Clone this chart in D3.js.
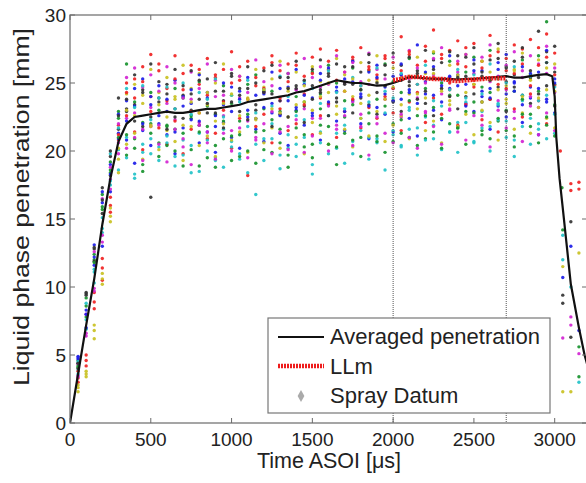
<!DOCTYPE html>
<html>
<head>
<meta charset="utf-8">
<script src="https://cdn.jsdelivr.net/npm/d3@7"></script>
<style>
  body { margin: 0; background: #fff; }
  svg { display: block; font-family: "Liberation Sans", Arial, sans-serif; }
</style>
</head>
<body>
<svg id="chart" width="586" height="483"></svg>
<script>
const sprayTimes = [50,100,150,200,250,300,350,400,450,500,550,600,650,700,750,800,850,900,950,1000,
  1050,1100,1150,1200,1250,1300,1350,1400,1450,1500,1550,1600,1650,1700,1750,1800,1850,1900,1950,2000,
  2050,2100,2150,2200,2250,2300,2350,2400,2450,2500,2550,2600,2650,2700,2750,2800,2850,2900,2950,3000]

const runColors = ['#f02222', '#17922e', '#1c1ce8', '#22c2c8', '#d224d2', '#c9c122', '#333333']

// one entry per injection, colour index + penetration at each sprayTimes step
const runs = [
  {c: 0, v: [3.0, 4.2, 8.4, 10.5, 15.5, 20.8, 25.0, 25.3, 26.2, 27.1,
    25.9, 24.6, 27.0, 25.7, 26.3, 24.9, 26.8, 25.4, 26.0, 27.3,
    25.2, 26.6, 24.8, 26.1, 27.0, 25.9, 26.4, 27.2, 25.5, 26.9,
    27.5, 26.0, 27.4, 25.8, 26.7, 27.6, 26.2, 25.6, 27.0, 26.5,
    28.4, 27.1, 26.3, 27.7, 28.9, 26.8, 27.4, 28.1, 26.2, 27.9,
    26.6, 28.5, 27.3, 25.9, 27.8, 26.4, 28.2, 27.6, 26.9, 27.2]},
  {c: 1, v: [4.6, 9.2, 12.4, 16.8, 19.2, 22.9, 26.4, 23.6, 22.1, 24.3,
    23.0, 21.8, 24.6, 23.9, 22.4, 25.1, 23.3, 22.7, 24.8, 23.5,
    22.2, 24.9, 25.6, 23.1, 24.4, 22.9, 25.7, 24.0, 23.6, 25.8,
    24.2, 26.3, 25.0, 23.7, 26.1, 24.5, 25.9, 23.8, 26.4, 25.1,
    24.3, 26.8, 25.5, 24.6, 27.2, 25.0, 26.6, 24.1, 25.8, 26.9,
    24.7, 27.4, 25.3, 26.2, 24.4, 26.7, 25.6, 27.0, 29.5, 24.9]},
  {c: 2, v: [4.9, 8.3, 11.6, 16.2, 19.0, 21.3, 20.8, 19.1, 21.5, 20.4,
    22.0, 21.2, 19.8, 21.7, 22.3, 20.6, 21.4, 19.9, 22.1, 21.0,
    20.2, 22.5, 21.6, 20.7, 22.8, 21.3, 20.4, 23.0, 21.9, 22.6,
    20.8, 23.4, 22.2, 21.5, 23.7, 22.0, 20.9, 23.2, 22.7, 21.4,
    23.8, 22.4, 21.1, 24.2, 23.0, 22.3, 24.6, 21.8, 23.5, 22.9,
    24.0, 21.6, 23.3, 22.5, 24.4, 22.1, 23.9, 21.2, 23.6, 22.8]},
  {c: 3, v: [3.9, 6.9, 10.3, 14.0, 17.5, 20.1, 21.0, 18.0, 20.5, 19.8,
    20.3, 21.1, 19.6, 20.8, 18.4, 21.3, 20.0, 19.3, 21.6, 20.7,
    19.4, 21.8, 16.8, 20.9, 22.0, 19.7, 21.2, 20.5, 22.3, 19.0,
    21.4, 22.6, 20.2, 21.9, 19.8, 22.4, 21.0, 20.6, 22.8, 21.5,
    20.3, 23.0, 21.7, 22.5, 20.9, 23.3, 21.4, 22.1, 23.6, 20.7,
    22.9, 21.8, 23.4, 22.2, 20.8, 23.7, 22.4, 21.6, 24.1, 22.7]},
  {c: 4, v: [3.5, 6.6, 9.9, 13.3, 17.9, 20.6, 22.4, 22.8, 21.6, 23.2,
    21.9, 23.5, 22.3, 20.9, 23.8, 22.1, 21.4, 24.0, 22.6, 21.5,
    23.9, 22.2, 21.0, 24.3, 22.9, 23.7, 21.8, 24.5, 23.1, 22.4,
    24.7, 23.3, 21.9, 25.0, 23.6, 22.7, 24.9, 22.0, 23.8, 24.6,
    22.5, 25.3, 23.9, 22.8, 25.6, 24.2, 23.0, 25.8, 23.4, 24.9,
    22.6, 25.1, 23.7, 24.5, 22.9, 25.4, 24.0, 23.2, 25.7, 24.3]},
  {c: 5, v: [2.3, 3.4, 6.2, 10.2, 14.8, 19.4, 24.2, 24.9, 23.5, 26.0,
    24.3, 25.4, 23.8, 26.3, 24.6, 25.7, 23.4, 25.0, 26.4, 24.1,
    25.5, 23.9, 26.0, 24.7, 25.3, 26.6, 24.4, 25.8, 23.6, 26.2,
    25.1, 24.3, 26.8, 25.6, 24.0, 26.5, 25.2, 27.0, 24.8, 26.1,
    25.4, 24.2, 26.9, 25.7, 27.3, 24.6, 26.3, 25.5, 27.1, 24.9,
    26.6, 25.2, 27.5, 24.8, 26.0, 27.2, 25.3, 26.7, 24.5, 26.4]},
  {c: 6, v: [4.4, 9.5, 12.8, 17.3, 19.6, 23.9, 23.1, 22.2, 24.5, 16.6,
    23.6, 24.9, 22.5, 24.1, 23.0, 25.2, 22.8, 24.4, 23.7, 25.5,
    22.9, 24.6, 23.4, 25.9, 24.2, 22.7, 25.4, 24.8, 23.3, 26.0,
    24.5, 25.7, 23.6, 26.2, 24.9, 23.9, 26.5, 24.3, 25.6, 23.7,
    26.3, 24.8, 25.9, 23.5, 26.7, 24.6, 25.2, 27.0, 24.0, 26.4,
    25.5, 23.8, 26.8, 25.1, 24.7, 26.9, 25.4, 24.2, 27.3, 25.8]},
  {c: 0, v: [3.8, 4.6, 8.9, 11.4, 16.0, 21.9, 22.6, 21.4, 20.1, 22.9,
    21.7, 20.5, 22.2, 19.8, 21.6, 22.8, 20.9, 21.3, 23.0, 20.2,
    22.4, 18.2, 21.8, 22.7, 20.6, 23.1, 21.5, 22.0, 23.4, 21.2,
    22.6, 23.5, 21.0, 22.9, 23.8, 21.7, 23.2, 22.4, 24.0, 22.8,
    21.5, 23.6, 24.3, 22.1, 23.9, 22.7, 24.5, 21.9, 23.4, 24.7,
    22.3, 23.8, 21.4, 24.6, 23.1, 22.5, 24.2, 23.7, 22.0, 24.8]},
  {c: 1, v: [4.1, 7.8, 12.0, 15.7, 18.6, 22.4, 21.2, 20.9, 19.0, 22.0,
    20.6, 21.9, 20.0, 21.3, 22.6, 18.9, 21.8, 20.4, 22.2, 21.1,
    19.6, 22.7, 21.4, 20.1, 22.3, 21.6, 19.7, 22.9, 21.2, 20.5,
    23.1, 21.8, 20.3, 22.5, 23.4, 21.0, 22.8, 20.7, 23.3, 22.0,
    21.3, 23.7, 22.6, 20.9, 23.2, 22.4, 24.1, 21.7, 22.9, 23.6,
    21.5, 24.3, 22.2, 23.0, 21.1, 23.8, 22.7, 24.4, 21.9, 23.4]},
  {c: 2, v: [4.7, 7.0, 12.2, 13.0, 17.0, 20.9, 23.7, 24.6, 25.3, 23.4,
    24.8, 22.9, 25.2, 24.0, 23.5, 25.6, 24.3, 22.6, 25.0, 24.7,
    23.8, 25.4, 24.1, 23.2, 25.8, 24.6, 23.7, 26.0, 24.9, 23.9,
    25.7, 26.1, 24.4, 25.3, 26.6, 24.2, 25.8, 26.3, 24.7, 25.5,
    26.4, 24.5, 27.8, 25.1, 26.2, 24.8, 27.0, 25.6, 24.9, 26.7,
    25.9, 24.6, 26.5, 27.1, 25.0, 26.2, 24.7, 25.8, 27.4, 25.3]},
  {c: 3, v: [3.6, 7.6, 11.1, 14.3, 17.8, 18.6, 19.5, 18.3, 19.9, 20.9,
    19.3, 20.6, 18.9, 19.7, 20.4, 18.5, 20.8, 19.5, 18.8, 20.3,
    19.8, 18.4, 20.5, 19.3, 20.9, 18.7, 20.2, 19.6, 21.0, 18.3,
    20.6, 19.8, 21.3, 19.1, 20.7, 21.5, 19.4, 20.9, 18.6, 21.2,
    20.4, 21.6, 19.7, 20.8, 21.9, 20.1, 21.4, 19.9, 22.1, 20.6,
    21.7, 20.0, 22.3, 21.0, 19.6, 21.8, 20.5, 22.0, 20.9, 21.3]},
  {c: 4, v: [4.3, 8.0, 12.6, 16.5, 18.8, 22.0, 25.4, 26.1, 24.7, 25.6,
    24.4, 26.2, 25.0, 23.9, 25.8, 24.6, 26.4, 25.2, 24.1, 26.0,
    25.5, 24.3, 26.7, 25.1, 24.8, 26.3, 25.7, 24.5, 26.8, 25.4,
    26.2, 24.9, 27.0, 25.8, 26.5, 25.1, 27.2, 26.0, 25.3, 26.9,
    25.6, 27.4, 26.1, 25.0, 26.8, 27.6, 25.4, 26.6, 27.1, 25.7,
    26.9, 27.8, 25.5, 26.3, 27.3, 25.9, 27.0, 26.4, 27.7, 26.1]},
  {c: 5, v: [2.8, 3.8, 7.2, 11.0, 15.2, 18.4, 20.5, 21.3, 19.4, 21.9,
    20.1, 21.5, 20.7, 19.3, 21.8, 20.4, 21.1, 19.6, 22.0, 20.8,
    21.4, 19.9, 22.3, 20.6, 21.7, 20.2, 22.5, 21.0, 19.8, 22.1,
    21.3, 20.5, 22.7, 21.6, 20.3, 22.4, 21.1, 22.9, 20.7, 21.9,
    22.6, 20.9, 23.1, 21.5, 22.2, 20.6, 23.4, 21.8, 22.7, 21.2,
    23.0, 22.1, 20.8, 23.5, 21.6, 22.8, 21.3, 23.2, 22.4, 21.7]},
  {c: 6, v: [4.0, 9.4, 11.9, 15.4, 18.2, 21.6, 22.9, 23.4, 21.8, 22.5,
    23.9, 21.6, 23.1, 22.4, 24.2, 21.9, 23.5, 22.8, 21.7, 23.6,
    24.1, 22.3, 23.0, 24.4, 21.8, 23.7, 22.5, 24.6, 22.1, 23.8,
    24.3, 22.6, 23.9, 25.0, 22.8, 24.5, 23.4, 22.7, 24.8, 23.6,
    22.9, 25.1, 23.8, 24.4, 22.6, 25.3, 24.0, 23.1, 25.5, 24.2,
    23.6, 25.2, 24.7, 22.9, 25.6, 24.1, 23.5, 25.4, 24.8, 23.3]},
  {c: 0, v: [3.3, 5.0, 9.6, 12.1, 16.6, 21.2, 24.3, 23.9, 25.1, 24.0,
    26.4, 23.7, 25.3, 24.5, 22.9, 26.0, 24.1, 25.6, 23.6, 25.0,
    26.2, 23.8, 25.4, 24.6, 26.5, 23.9, 25.1, 26.3, 24.2, 25.7,
    23.9, 26.6, 25.2, 24.4, 26.9, 24.8, 26.0, 25.3, 26.8, 24.6,
    25.9, 27.3, 24.9, 26.6, 25.4, 27.1, 25.0, 26.4, 27.6, 25.2,
    26.1, 27.0, 24.9, 26.8, 25.7, 27.5, 24.8, 26.3, 28.6, 25.6]},
  {c: 1, v: [4.2, 8.6, 11.8, 15.9, 18.4, 21.0, 19.7, 20.2, 18.5, 21.3,
    19.6, 20.4, 21.6, 18.9, 20.1, 21.4, 19.5, 18.8, 20.9, 19.3,
    21.2, 20.0, 19.1, 21.5, 19.9, 20.6, 18.8, 21.7, 20.3, 19.5,
    21.9, 20.5, 19.0, 21.3, 20.8, 19.6, 22.0, 21.1, 19.9, 20.7,
    22.3, 21.0, 20.4, 22.6, 21.4, 20.2, 22.0, 21.7, 20.5, 22.8,
    21.2, 20.9, 22.4, 21.5, 20.3, 22.7, 21.8, 20.6, 22.5, 21.1]},
  {c: 2, v: [4.8, 8.0, 13.1, 17.0, 18.3, 22.7, 22.2, 23.3, 22.0, 24.0,
    22.6, 23.8, 21.4, 23.3, 24.5, 22.2, 23.9, 21.8, 23.4, 22.9,
    24.4, 23.0, 22.4, 24.2, 23.5, 22.6, 24.7, 23.2, 24.1, 22.8,
    25.2, 23.6, 24.7, 22.9, 25.1, 24.0, 23.3, 25.4, 24.2, 23.7,
    25.6, 24.3, 23.5, 25.8, 24.1, 23.6, 25.5, 24.8, 23.3, 25.9,
    24.4, 23.9, 26.0, 24.2, 25.1, 23.4, 25.7, 24.6, 23.8, 25.0]},
  {c: 3, v: [4.5, 8.8, 11.3, 15.1, 19.8, 21.7, 24.6, 23.2, 24.8, 22.3,
    23.9, 24.7, 23.1, 25.0, 22.7, 24.3, 23.8, 25.3, 22.5, 24.1,
    23.6, 25.2, 22.8, 24.5, 23.3, 25.5, 24.0, 22.6, 25.1, 24.6,
    23.5, 25.9, 24.3, 23.1, 25.4, 24.8, 23.6, 26.1, 24.4, 23.9,
    25.7, 23.2, 24.9, 26.3, 23.7, 25.2, 24.5, 26.0, 23.9, 25.6,
    24.2, 26.4, 23.5, 25.0, 26.2, 24.1, 25.5, 23.7, 26.5, 24.7]},
  {c: 4, v: [3.4, 6.4, 9.7, 13.8, 17.2, 19.8, 20.2, 21.0, 19.3, 21.8,
    20.5, 19.2, 21.6, 20.3, 19.0, 21.9, 20.6, 19.4, 21.3, 20.0,
    21.7, 19.5, 20.8, 22.0, 19.8, 21.4, 20.1, 22.3, 19.9, 21.1,
    22.4, 20.0, 21.6, 22.6, 20.4, 21.8, 19.7, 22.5, 21.3, 20.6,
    22.7, 21.0, 20.2, 22.9, 21.8, 20.5, 23.1, 21.4, 20.8, 22.6,
    21.9, 20.3, 23.0, 21.7, 22.4, 20.7, 23.3, 21.2, 22.8, 21.5]},
  {c: 5, v: [2.6, 3.6, 6.8, 10.6, 15.8, 20.2, 23.0, 22.6, 24.1, 21.8,
    23.4, 22.5, 24.0, 21.9, 23.6, 22.8, 24.3, 22.2, 23.5, 24.2,
    22.6, 23.8, 22.4, 24.5, 23.1, 22.8, 24.6, 23.4, 24.8, 23.0,
    24.0, 25.0, 23.3, 24.4, 25.3, 23.5, 24.1, 25.1, 23.8, 24.7,
    23.4, 25.5, 24.2, 23.9, 25.7, 24.4, 23.7, 25.6, 24.3, 24.9,
    23.6, 25.8, 24.5, 23.8, 25.9, 24.0, 25.2, 23.9, 26.1, 24.4]},
  {c: 6, v: [4.4, 9.6, 12.9, 16.4, 20.0, 22.6, 23.8, 25.6, 24.3, 26.4,
    25.1, 24.2, 26.0, 24.8, 25.9, 23.8, 25.3, 26.5, 24.4, 25.7,
    24.6, 26.2, 25.0, 24.3, 26.3, 25.4, 24.6, 26.6, 25.2, 24.8,
    26.7, 25.5, 26.4, 24.9, 26.2, 25.8, 27.1, 25.0, 26.3, 27.2,
    25.2, 26.9, 25.7, 27.4, 26.0, 26.5, 27.3, 25.4, 26.9, 27.6,
    25.8, 26.7, 27.9, 26.1, 26.6, 27.6, 25.9, 28.8, 26.5, 27.7]}
]

// points after end of injection: [time, value, colour index]
const tailPoints = [
  [3035, 20.0, 0], [3045, 17.3, 1], [3050, 14.2, 1], [3050, 13.8, 3], [3050, 12.0, 3], [3050, 11.5, 5],
  [3050, 10.7, 2], [3050, 9.4, 6], [3050, 8.8, 6], [3050, 6.25, 4], [3050, 2.3, 5],
  [3100, 17.6, 0], [3100, 17.1, 0], [3100, 14.8, 6], [3100, 13.0, 2], [3100, 10.0, 3], [3100, 7.8, 4],
  [3100, 7.2, 4], [3100, 6.3, 6], [3100, 2.3, 5],
  [3150, 17.7, 0], [3150, 17.2, 0], [3150, 12.5, 5], [3150, 6.8, 2], [3150, 5.6, 1], [3150, 5.1, 4],
  [3150, 3.4, 1], [3150, 3.0, 3]
]

const avgTimes = [0,50,100,150,200,250,300,350,400,450,500,550,600,650,700,750,800,850,900,950,1000,
  1050,1100,1150,1200,1250,1300,1350,1400,1450,1500,1550,1600,1650,1700,1750,1800,1850,1900,1950,2000,
  2050,2100,2150,2200,2250,2300,2350,2400,2450,2500,2550,2600,2650,2700,2750,2800,2850,2900,2950,
  2985,3000,3010,3030,3050,3075,3100,3150,3185,3220]
const avgValues = [0,3.6,7.2,10.6,14.6,18.0,20.7,22.0,22.5,22.6,22.7,22.8,22.9,22.8,22.8,22.9,23.0,23.1,23.1,23.2,23.3,
  23.4,23.6,23.7,23.8,23.9,24.0,24.1,24.3,24.4,24.6,24.8,25.0,25.2,25.1,25.0,25.0,24.9,24.8,24.85,25.0,
  25.2,25.45,25.4,25.35,25.3,25.3,25.3,25.25,25.3,25.3,25.35,25.4,25.45,25.5,25.4,25.4,25.5,25.6,25.65,
  25.5,24.0,21.0,18.0,15.8,13.0,10.2,7.0,5.0,3.5]

const llmTimes = [2000,2050,2100,2150,2200,2250,2300,2350,2400,2450,2500,2550,2600,2650,2700]
const llmValues = [25.2,25.3,25.45,25.45,25.35,25.3,25.3,25.2,25.15,25.2,25.25,25.3,25.35,25.35,25.35]

const windowEdges = [2000, 2700]
const xTicks = [0,500,1000,1500,2000,2500,3000]
const yTicks = [0,5,10,15,20,25,30]

const margin = {left: 70, top: 15, right: 587, bottom: 423}
const svg = d3.select('#chart')

const x = d3.scaleLinear().domain([0,3200]).range([margin.left, margin.right])
const y = d3.scaleLinear().domain([0,30]).range([margin.bottom, margin.top])

svg.append('defs').append('clipPath').attr('id','plotClip')
  .append('rect')
  .attr('x', margin.left).attr('y', margin.top)
  .attr('width', margin.right - margin.left).attr('height', margin.bottom - margin.top)

const plot = svg.append('g').attr('clip-path','url(#plotClip)')

const sprayPoints = []
runs.forEach(run => {
  run.v.forEach((v, i) => sprayPoints.push({t: sprayTimes[i], v: v, c: run.c}))
})
tailPoints.forEach(p => sprayPoints.push({t: p[0], v: p[1], c: p[2]}))

plot.selectAll('.sprayDot')
  .data(sprayPoints)
  .join('circle')
  .attr('class','sprayDot')
  .attr('cx', d => x(d.t))
  .attr('cy', d => y(d.v))
  .attr('r', 1.7)
  .attr('fill', d => runColors[d.c])
  .attr('opacity', 0.92)

plot.selectAll('.windowLine')
  .data(windowEdges)
  .join('line')
  .attr('class','windowLine')
  .attr('x1', d => x(d)).attr('x2', d => x(d))
  .attr('y1', margin.top).attr('y2', margin.bottom)
  .attr('stroke','#555')
  .attr('stroke-width',1)
  .attr('stroke-dasharray','1,1')

const line = d3.line().x(d => x(d[0])).y(d => y(d[1]))

plot.append('path')
  .datum(avgTimes.map((t, i) => [t, avgValues[i]]))
  .attr('d', line)
  .attr('fill','none')
  .attr('stroke','#111')
  .attr('stroke-width',2.2)

plot.append('path')
  .datum(llmTimes.map((t, i) => [t, llmValues[i]]))
  .attr('d', d3.line().x(d => x(d[0])).y(d => y(d[1])).curve(d3.curveMonotoneX))
  .attr('fill','none')
  .attr('stroke','#ee1c1c')
  .attr('stroke-width',4.5)
  .attr('stroke-dasharray','2,1')

// axes box, MATLAB style inward ticks
const axisColor = '#6a6a6a'
svg.append('rect')
  .attr('x', margin.left).attr('y', margin.top)
  .attr('width', margin.right - margin.left).attr('height', margin.bottom - margin.top)
  .attr('fill','none').attr('stroke', axisColor).attr('stroke-width',1.2)

const tickLen = 5
svg.selectAll('.xTickB').data(xTicks).join('line')
  .attr('x1', d => x(d)).attr('x2', d => x(d))
  .attr('y1', margin.bottom).attr('y2', margin.bottom - tickLen)
  .attr('stroke', axisColor)
svg.selectAll('.xTickT').data(xTicks).join('line')
  .attr('x1', d => x(d)).attr('x2', d => x(d))
  .attr('y1', margin.top).attr('y2', margin.top + tickLen)
  .attr('stroke', axisColor)
svg.selectAll('.yTickL').data(yTicks).join('line')
  .attr('x1', margin.left).attr('x2', margin.left + tickLen)
  .attr('y1', d => y(d)).attr('y2', d => y(d))
  .attr('stroke', axisColor)
svg.selectAll('.yTickR').data(yTicks).join('line')
  .attr('x1', margin.right).attr('x2', margin.right - tickLen)
  .attr('y1', d => y(d)).attr('y2', d => y(d))
  .attr('stroke', axisColor)

svg.selectAll('.xLabel').data(xTicks).join('text')
  .attr('x', d => x(d)).attr('y', 446)
  .attr('text-anchor','middle')
  .attr('font-size',19)
  .attr('fill','#222')
  .text(d => d)
svg.selectAll('.yLabel').data(yTicks).join('text')
  .attr('x', 66).attr('y', d => y(d) + 6.8)
  .attr('text-anchor','end')
  .attr('font-size',19)
  .attr('fill','#222')
  .text(d => d)

svg.append('text')
  .attr('x', 329).attr('y', 468)
  .attr('text-anchor','middle')
  .attr('font-size',21.5)
  .attr('fill','#222')
  .text('Time ASOI [μs]')

svg.append('text')
  .attr('transform','translate(28.5,207) rotate(-90)')
  .attr('text-anchor','middle')
  .attr('font-size',22)
  .attr('fill','#222')
  .attr('textLength',358)
  .attr('lengthAdjust','spacingAndGlyphs')
  .text('Liquid phase penetration [mm]')

// legend
const legend = svg.append('g')
legend.append('rect')
  .attr('x',268).attr('y',318).attr('width',282).attr('height',95)
  .attr('fill','#fff').attr('stroke','#777').attr('stroke-width',1.2)

legend.append('line')
  .attr('x1',278).attr('x2',324).attr('y1',337).attr('y2',337)
  .attr('stroke','#111').attr('stroke-width',2.2)
legend.append('line')
  .attr('x1',278).attr('x2',324).attr('y1',366).attr('y2',366)
  .attr('stroke','#ee1c1c').attr('stroke-width',4.5).attr('stroke-dasharray','2,1')
legend.append('path')
  .attr('d', d3.symbol(d3.symbolDiamond, 40)())
  .attr('transform','translate(301,396)')
  .attr('fill','#aaa')

const legendLabels = ['Averaged penetration','LLm','Spray Datum']
legend.selectAll('.legText').data(legendLabels).join('text')
  .attr('x',330).attr('y', (d, i) => 344 + i * 29.5)
  .attr('font-size',22)
  .attr('fill','#222')
  .text(d => d)
</script>
</body>
</html>
